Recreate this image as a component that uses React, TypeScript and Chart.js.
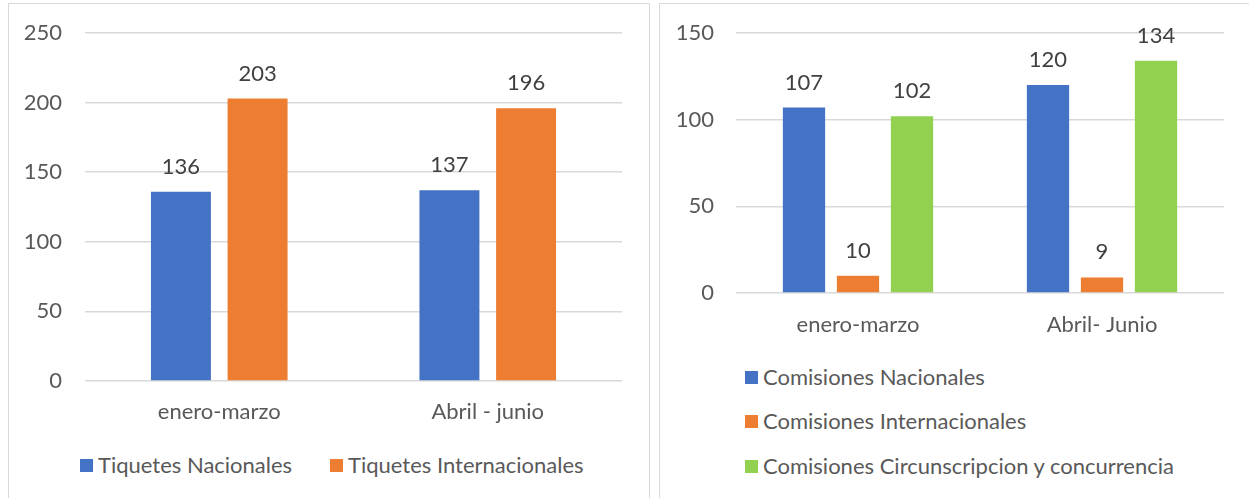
import React, { useEffect, useRef } from "react";
import { Chart, registerables } from "chart.js";

Chart.register(...registerables);

const FONT = "Lato";
const SIZE = 22;
const TEXT = "#595959";
const LABEL = "#404040";
const GRID = "#d9d9d9";
const BLUE = "#4472C4";
const ORANGE = "#ED7D31";
const GREEN = "#92D050";

// Left chart data
const leftCategories = ["enero-marzo", "Abril - junio"];
const tiquetesNacionales = [136, 137];
const tiquetesInternacionales = [203, 196];
const leftSeriesNames = ["Tiquetes Nacionales", "Tiquetes Internacionales"];

// Right chart data
const rightCategories = ["enero-marzo", "Abril- Junio"];
const comisionesNacionales = [107, 120];
const comisionesInternacionales = [10, 9];
const comisionesCircunscripcion = [102, 134];
const rightSeriesNames = [
  "Comisiones Nacionales",
  "Comisiones Internacionales",
  "Comisiones Circunscripcion y concurrencia",
];

function makeValueLabels(size: number) {
  return {
    id: "valueLabels",
    afterDatasetsDraw(chart: any) {
      const ctx = chart.ctx;
      ctx.save();
      ctx.font = `${size}px ${FONT}`;
      ctx.fillStyle = LABEL;
      ctx.textAlign = "center";
      ctx.textBaseline = "middle";
      chart.data.datasets.forEach((ds: any, i: number) => {
        const meta = chart.getDatasetMeta(i);
        meta.data.forEach((bar: any, j: number) => {
          ctx.fillText(String(ds.data[j]), bar.x, bar.y - 25);
        });
      });
      ctx.restore();
    },
  };
}

function makeOptions(opts: {
  max: number;
  step: number;
  yWidth: number;
  xHeight: number;
  padTop: number;
  padRight: number;
  tickPadY: number;
  tickPadX: number;
  size: number;
}) {
  return {
    responsive: false,
    animation: false as const,
    layout: { padding: { top: opts.padTop, right: opts.padRight, left: 0, bottom: 0 } },
    plugins: { legend: { display: false }, tooltip: { enabled: false } },
    scales: {
      x: {
        grid: { display: false, drawTicks: false },
        border: { display: false },
        ticks: {
          color: TEXT,
          font: { family: FONT, size: opts.size },
          padding: opts.tickPadX,
          maxRotation: 0,
        },
        afterFit: (s: any) => {
          s.height = opts.xHeight;
        },
      },
      y: {
        min: 0,
        max: opts.max,
        grid: { color: GRID, lineWidth: 1.5, drawTicks: false },
        border: { display: false },
        ticks: {
          stepSize: opts.step,
          color: TEXT,
          font: { family: FONT, size: opts.size },
          padding: opts.tickPadY,
        },
        afterFit: (s: any) => {
          s.width = opts.yWidth;
          s.paddingTop = 0;
          s.paddingBottom = 0;
        },
      },
    },
  };
}

function LeftChart() {
  const ref = useRef<HTMLCanvasElement>(null);
  useEffect(() => {
    const chart = new Chart(ref.current!, {
      type: "bar",
      data: {
        labels: leftCategories,
        datasets: [
          {
            label: leftSeriesNames[0],
            data: tiquetesNacionales,
            backgroundColor: BLUE,
            categoryPercentage: 0.571,
            barPercentage: 0.782,
          },
          {
            label: leftSeriesNames[1],
            data: tiquetesInternacionales,
            backgroundColor: ORANGE,
            categoryPercentage: 0.571,
            barPercentage: 0.782,
          },
        ],
      },
      options: makeOptions({
        max: 250,
        step: 50,
        yWidth: 77,
        xHeight: 62,
        padTop: 30,
        padRight: 29,
        tickPadY: 23,
        tickPadX: 18,
        size: SIZE,
      }) as any,
      plugins: [makeValueLabels(SIZE)],
    });
    return () => chart.destroy();
  }, []);
  return (
    <canvas
      ref={ref}
      width={643}
      height={440}
      style={{ position: "absolute", left: 8, top: 3, width: 643, height: 440 }}
    />
  );
}

function RightChart() {
  const ref = useRef<HTMLCanvasElement>(null);
  useEffect(() => {
    const chart = new Chart(ref.current!, {
      type: "bar",
      data: {
        labels: rightCategories,
        datasets: [
          {
            label: rightSeriesNames[0],
            data: comisionesNacionales,
            backgroundColor: BLUE,
            categoryPercentage: 0.664,
            barPercentage: 0.783,
          },
          {
            label: rightSeriesNames[1],
            data: comisionesInternacionales,
            backgroundColor: ORANGE,
            categoryPercentage: 0.664,
            barPercentage: 0.783,
          },
          {
            label: rightSeriesNames[2],
            data: comisionesCircunscripcion,
            backgroundColor: GREEN,
            categoryPercentage: 0.664,
            barPercentage: 0.783,
          },
        ],
      },
      options: makeOptions({
        max: 150,
        step: 50,
        yWidth: 76,
        xHeight: 70,
        padTop: 30,
        padRight: 25,
        tickPadY: 22,
        tickPadX: 19,
        size: SIZE,
      }) as any,
      plugins: [makeValueLabels(SIZE)],
    });
    return () => chart.destroy();
  }, []);
  return (
    <canvas
      ref={ref}
      width={589}
      height={360}
      style={{ position: "absolute", left: 660, top: 3, width: 589, height: 360 }}
    />
  );
}

const legendText: React.CSSProperties = {
  position: "absolute",
  fontFamily: FONT,
  fontSize: SIZE,
  color: TEXT,
  whiteSpace: "nowrap",
  lineHeight: "26px",
  display: "flex",
  alignItems: "center",
};

function LegendItem(props: { x: number; y: number; color: string; text: string }) {
  return (
    <div style={{ ...legendText, left: props.x, top: props.y - 13 }}>
      <span
        style={{
          display: "inline-block",
          width: 13,
          height: 13,
          background: props.color,
          marginRight: 5,
        }}
      />
      <span>{props.text}</span>
    </div>
  );
}

export default function App() {
  return (
    <div
      style={{
        position: "fixed",
        left: 0,
        top: 0,
        width: 1249,
        height: 498,
        background: "#fff",
        overflow: "hidden",
      }}
    >
      <div
        style={{
          position: "absolute",
          left: 8,
          top: 3,
          width: 642,
          height: 520,
          border: "1.5px solid #d9d9d9",
          boxSizing: "border-box",
        }}
      />
      <div
        style={{
          position: "absolute",
          left: 659,
          top: 3,
          width: 600,
          height: 520,
          border: "1.5px solid #d9d9d9",
          boxSizing: "border-box",
        }}
      />
      <LeftChart />
      <RightChart />
      <LegendItem x={80} y={465} color={BLUE} text={leftSeriesNames[0]} />
      <LegendItem x={330} y={465} color={ORANGE} text={leftSeriesNames[1]} />
      <LegendItem x={745} y={377} color={BLUE} text={rightSeriesNames[0]} />
      <LegendItem x={745} y={421} color={ORANGE} text={rightSeriesNames[1]} />
      <LegendItem x={745} y={466} color={GREEN} text={rightSeriesNames[2]} />
    </div>
  );
}
